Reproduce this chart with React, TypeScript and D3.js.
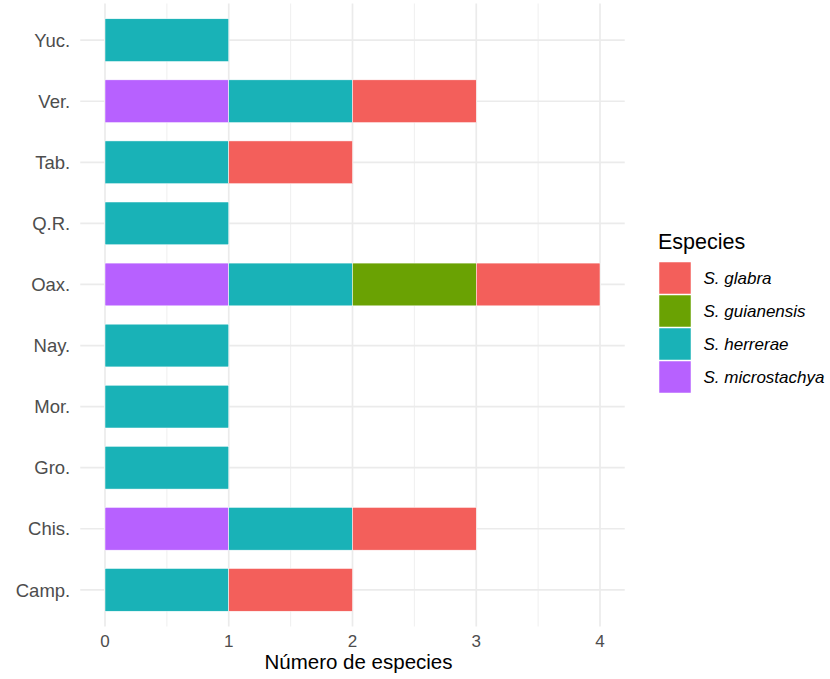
import React from "react";
import * as d3 from "d3";

const states = ["Camp.", "Chis.", "Gro.", "Mor.", "Nay.", "Oax.", "Q.R.", "Tab.", "Ver.", "Yuc."];
const species = ["S. glabra", "S. guianensis", "S. herrerae", "S. microstachya"];
const glabra = [1, 1, 0, 0, 0, 1, 0, 1, 1, 0];
const guianensis = [0, 0, 0, 0, 0, 1, 0, 0, 0, 0];
const herrerae = [1, 1, 1, 1, 1, 1, 1, 1, 1, 1];
const microstachya = [0, 1, 0, 0, 0, 1, 0, 0, 1, 0];
const colors = ["#F35F5B", "#6AA203", "#19B2B7", "#B761FF"];
const xTicks = [0, 1, 2, 3, 4];

export default function App() {
  const W = 830, H = 679;
  const left = 80.25, right = 624.75, top = 3.5, bottom = 626.5;
  const x = d3.scaleLinear().domain([-0.2, 4.2]).range([left, right]);
  const n = states.length;
  const step = (bottom - top) / (n - 1 + 1.2);
  const yc = (i: number) => bottom - step * (0.6 + i);
  const bh = step * 0.7;
  const seriesVals = [glabra, guianensis, herrerae, microstachya];
  const stackOrder = [3, 2, 1, 0];
  const rects: any[] = [];
  states.forEach((s, i) => {
    let acc = 0;
    stackOrder.forEach((k) => {
      const v = seriesVals[k][i];
      if (v > 0) {
        rects.push({ key: s + k, x0: acc, x1: acc + v, i, k });
        acc += v;
      }
    });
  });
  const minor = [0.5, 1.5, 2.5, 3.5];
  const font = "Liberation Sans, Arial, sans-serif";
  return (
    <svg width={W} height={H} style={{ position: "absolute", left: 0, top: 0, background: "#fff" }} fontFamily={font}>
      {minor.map((m) => (
        <line key={"m" + m} x1={x(m)} x2={x(m)} y1={top} y2={bottom} stroke="#EBEBEB" strokeWidth={0.8} />
      ))}
      {xTicks.map((t) => (
        <line key={"g" + t} x1={x(t)} x2={x(t)} y1={top} y2={bottom} stroke="#EBEBEB" strokeWidth={1.7} />
      ))}
      {states.map((s, i) => (
        <line key={"h" + s} x1={left} x2={right} y1={yc(i)} y2={yc(i)} stroke="#EBEBEB" strokeWidth={1.7} />
      ))}
      {rects.map((r) => (
        <rect key={r.key} x={x(r.x0)} width={x(r.x1) - x(r.x0)} y={yc(r.i) - bh / 2} height={bh}
          fill={colors[r.k]} stroke="#fff" strokeWidth={0.5} />
      ))}
      {states.map((s, i) => (
        <text key={"l" + s} x={left - 10} y={yc(i)} dy="0.36em" textAnchor="end" fontSize={18.5} fill="#4D4D4D">{s}</text>
      ))}
      {xTicks.map((t) => (
        <text key={"t" + t} x={x(t)} y={646.5} textAnchor="middle" fontSize={17} fill="#4D4D4D">{t}</text>
      ))}
      <text x={358.5} y={668.5} textAnchor="middle" fontSize={20.5} fill="#000">Número de especies</text>
      <text x={658} y={248.5} fontSize={21.5} fill="#000">Especies</text>
      {species.map((sp, k) => (
        <g key={sp} transform={`translate(659, ${262 + k * 33})`}>
          <rect x={0} y={0} width={32} height={32} fill={colors[k]} stroke="#fff" strokeWidth={0.5} />
          <text x={44.5} y={16} dy="0.36em" fontSize={17} fontStyle="italic" fill="#000">{sp}</text>
        </g>
      ))}
    </svg>
  );
}
